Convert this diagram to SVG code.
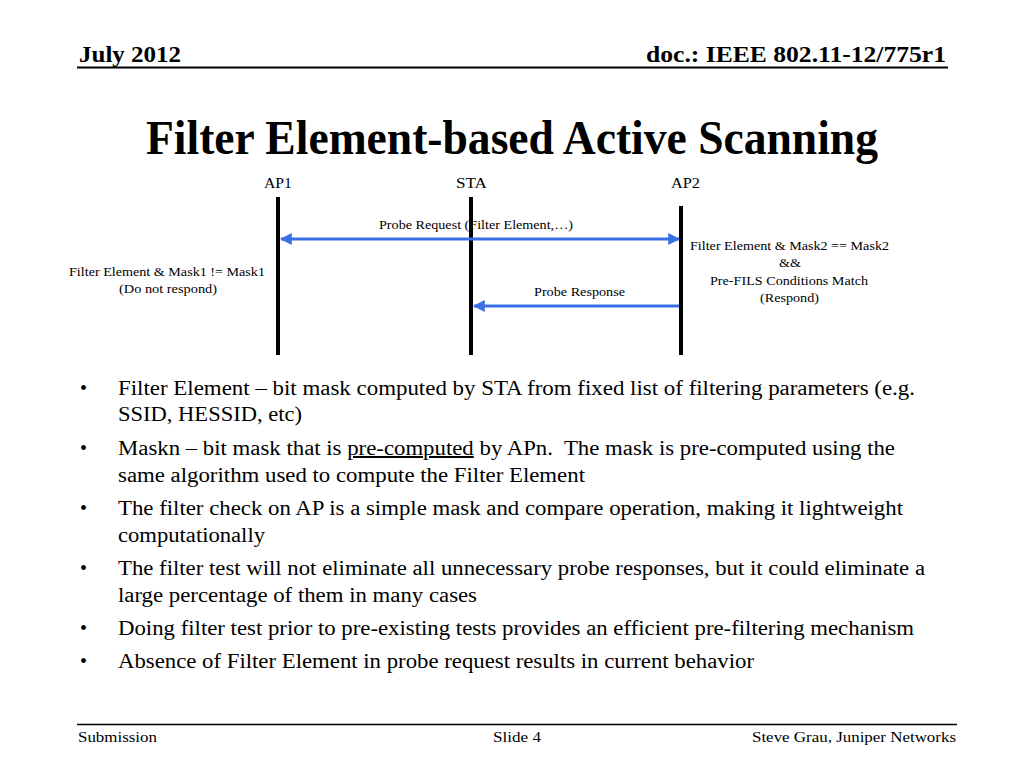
<svg xmlns="http://www.w3.org/2000/svg" width="1024" height="768" viewBox="0 0 1024 768">
<defs>
<style>
text{font-family:"Liberation Serif","Times New Roman",serif;fill:#000}
.hd{font-size:24px;font-weight:bold}
.ti{font-size:48px;font-weight:bold}
.ft{font-size:14.5px}
.lb{font-size:14px}
.sm{font-size:12px}
.bl{font-size:20px}
.life{stroke:#000;stroke-width:4}
.msg{stroke:#3b6fe6;stroke-width:3;fill:none}
</style>
<marker id="ah" viewBox="0 0 10 10" refX="9" refY="5" markerWidth="4" markerHeight="4" orient="auto-start-reverse" markerUnits="strokeWidth">
<path d="M0,0 L10,5 L0,10 z" fill="#3b6fe6"/>
</marker>
</defs>
<rect width="1024" height="768" fill="#fff"/>
<g id="header">
<text class="hd" x="79" y="62" textLength="102" lengthAdjust="spacingAndGlyphs">July 2012</text>
<text class="hd" x="946" y="62" text-anchor="end" textLength="300" lengthAdjust="spacingAndGlyphs">doc.: IEEE 802.11-12/775r1</text>
<line x1="77" y1="67.5" x2="948" y2="67.5" stroke="#000" stroke-width="2"/>
</g>
<text class="ti" x="512" y="154" text-anchor="middle" textLength="732" lengthAdjust="spacingAndGlyphs">Filter Element-based Active Scanning</text>
<g id="AP1">
<text class="lb" x="278" y="188" text-anchor="middle" textLength="28" lengthAdjust="spacingAndGlyphs">AP1</text>
<line class="life" x1="278" y1="197" x2="278" y2="355"/>
<text class="sm" x="167" y="276" text-anchor="middle" textLength="196" lengthAdjust="spacingAndGlyphs">Filter Element &amp; Mask1 != Mask1</text>
<text class="sm" x="168" y="293" text-anchor="middle" textLength="98" lengthAdjust="spacingAndGlyphs">(Do not respond)</text>
</g>
<g id="STA">
<text class="lb" x="471.5" y="188" text-anchor="middle" textLength="31" lengthAdjust="spacingAndGlyphs">STA</text>
<line class="life" x1="471" y1="197" x2="471" y2="355"/>
</g>
<g id="AP2">
<text class="lb" x="685.5" y="188" text-anchor="middle" textLength="29" lengthAdjust="spacingAndGlyphs">AP2</text>
<line class="life" x1="681" y1="206" x2="681" y2="355"/>
<text class="sm" x="789.5" y="250" text-anchor="middle" textLength="199" lengthAdjust="spacingAndGlyphs">Filter Element &amp; Mask2 == Mask2</text>
<text class="sm" x="790" y="267" text-anchor="middle" textLength="22" lengthAdjust="spacingAndGlyphs">&amp;&amp;</text>
<text class="sm" x="789" y="285" text-anchor="middle" textLength="158" lengthAdjust="spacingAndGlyphs">Pre-FILS Conditions Match</text>
<text class="sm" x="789.5" y="302" text-anchor="middle" textLength="59" lengthAdjust="spacingAndGlyphs">(Respond)</text>
</g>
<g id="connectors">
<line class="msg" x1="281" y1="239" x2="679" y2="239" marker-start="url(#ah)" marker-end="url(#ah)"/>
<text class="sm" x="476" y="229" text-anchor="middle" textLength="194" lengthAdjust="spacingAndGlyphs">Probe Request (Filter Element,…)</text>
<line class="msg" x1="679" y1="306" x2="474" y2="306" marker-end="url(#ah)"/>
<text class="sm" x="579.5" y="296" text-anchor="middle" textLength="91" lengthAdjust="spacingAndGlyphs">Probe Response</text>
</g>
<g id="bullets">
<text class="bl" x="80" y="395">•</text>
<text class="bl" x="118" y="395" textLength="797" lengthAdjust="spacingAndGlyphs">Filter Element – bit mask computed by STA from fixed list of filtering parameters (e.g.</text>
<text class="bl" x="118" y="421" textLength="184" lengthAdjust="spacingAndGlyphs">SSID, HESSID, etc)</text>
<text class="bl" x="80" y="455">•</text>
<text class="bl" x="118" y="455" textLength="777" lengthAdjust="spacingAndGlyphs">Maskn – bit mask that is <tspan text-decoration="underline">pre-computed</tspan> by APn.&#160; The mask is pre-computed using the</text>
<text class="bl" x="118" y="482" textLength="467" lengthAdjust="spacingAndGlyphs">same algorithm used to compute the Filter Element</text>
<text class="bl" x="80" y="515">•</text>
<text class="bl" x="118" y="515" textLength="785" lengthAdjust="spacingAndGlyphs">The filter check on AP is a simple mask and compare operation, making it lightweight</text>
<text class="bl" x="118" y="542" textLength="147" lengthAdjust="spacingAndGlyphs">computationally</text>
<text class="bl" x="80" y="575">•</text>
<text class="bl" x="118" y="575" textLength="807" lengthAdjust="spacingAndGlyphs">The filter test will not eliminate all unnecessary probe responses, but it could eliminate a</text>
<text class="bl" x="118" y="602" textLength="359" lengthAdjust="spacingAndGlyphs">large percentage of them in many cases</text>
<text class="bl" x="80" y="635">•</text>
<text class="bl" x="118" y="635" textLength="796" lengthAdjust="spacingAndGlyphs">Doing filter test prior to pre-existing tests provides an efficient pre-filtering mechanism</text>
<text class="bl" x="80" y="668">•</text>
<text class="bl" x="118" y="668" textLength="636" lengthAdjust="spacingAndGlyphs">Absence of Filter Element in probe request results in current behavior</text>
</g>
<g id="footer">
<line x1="77" y1="724.5" x2="957" y2="724.5" stroke="#000" stroke-width="1.5"/>
<text class="ft" x="78" y="742" textLength="79" lengthAdjust="spacingAndGlyphs">Submission</text>
<text class="ft" x="493" y="742" textLength="48" lengthAdjust="spacingAndGlyphs">Slide 4</text>
<text class="ft" x="956" y="742" text-anchor="end" textLength="204" lengthAdjust="spacingAndGlyphs">Steve Grau, Juniper Networks</text>
</g>
</svg>
